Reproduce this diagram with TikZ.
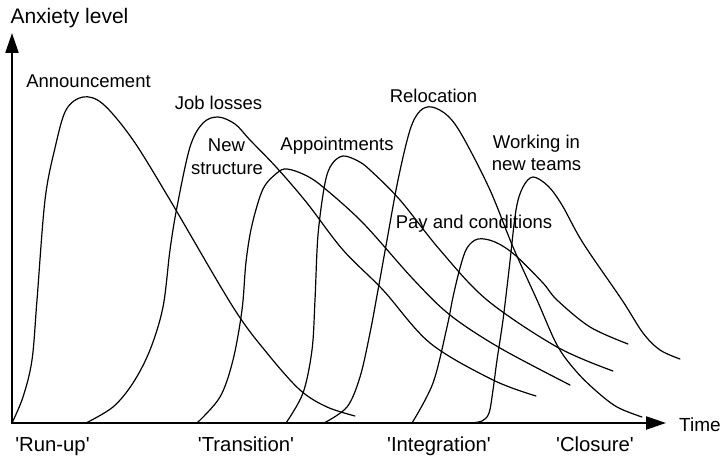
\documentclass[tikz,border=0pt]{standalone}
\usepackage{fontspec}
\setmainfont{Liberation Sans}
\usetikzlibrary{arrows.meta}
\newcommand{\q}{\textquotesingle}
\begin{document}
\begin{tikzpicture}[x=1pt,y=-1pt,
  lbl/.style={inner sep=0pt, anchor=base, font=\fontsize{18.5}{22}\selectfont},
  phase/.style={lbl, font=\fontsize{20.3}{24}\selectfont},
  axisline/.style={line width=2.3pt},
  curve/.style={line width=1.2pt, line join=round, line cap=round}]
\useasboundingbox (0,0) rectangle (725,457);
% axes
\coordinate (O) at (12,423);
\coordinate (Ytip) at (12,33);
\coordinate (Xtip) at (666,423);
\draw[axisline, {Triangle[length=20pt,width=13pt]}-{Triangle[length=20pt,width=13pt]}] (Ytip) -- (O) -- (Xtip);
% curves
\draw[curve] plot[smooth, tension=0.55] coordinates {(12,423) (23,397) (32,360) (37,300) (45,200) (55,148) (66,110) (83,97) (103,104) (133,140) (170,200) (233,307) (267,353) (300,390) (327,407) (355,416)};
\draw[curve] plot[smooth, tension=0.55] coordinates {(86,423) (113,407) (133,383) (150,350) (163,307) (170,250) (177,207) (190,147) (203,123) (218,117) (235,124) (250,140) (277,168) (307,203) (343,250) (383,290) (430,343) (493,380) (536,396)};
\draw[curve] plot[smooth, tension=0.55] coordinates {(197,423) (220,397) (233,360) (242,310) (246,262) (252,225) (263,189) (277,173) (287,169) (305,175) (323,187) (363,223) (413,279) (450,315) (500,348) (570,385)};
\draw[curve] plot[smooth, tension=0.55] coordinates {(286,423) (303,393) (312,350) (315,300) (318,235) (325,183) (332,164) (343,156) (358,161) (370,170) (400,200) (440,250) (487,300) (557,347) (613,371)};
\draw[curve] plot[smooth, tension=0.55] coordinates {(324,423) (347,407) (360,377) (370,333) (378,290) (387,240) (398,180) (410,130) (420,111) (432,107) (448,116) (463,137) (490,190) (513,247) (537,300) (557,345) (575,370) (595,390) (617,407) (642,417)};
\draw[curve] plot[smooth, tension=0.55] coordinates {(412,423) (433,383) (447,327) (453,297) (460,268) (467,248) (478,239) (495,242) (515,255) (543,283) (557,300) (590,327) (628,344)};
\draw[curve] plot[smooth, tension=0.55] coordinates {(470,423) (482,421) (489,413) (493,390) (497,360) (503,320) (509,270) (516,210) (523,187) (533,177) (548,186) (562,205) (583,243) (622,300) (643,333) (660,350) (680,359)};
% labels
\node[lbl, font=\fontsize{21}{24}\selectfont] (ylab) at (69.5,24) {Anxiety level};
\node[lbl, font=\fontsize{19}{22}\selectfont] (xlab) at (679,431) [anchor=base west] {Time};
\node[lbl] (ann) at (88.5,88) {Announcement};
\node[lbl] (job) at (218.5,110) {Job losses};
\node[lbl] (ns1) at (226.5,152) {New};
\node[lbl] (ns2) at (227,175) {structure};
\node[lbl] (app) at (337,151) {Appointments};
\node[lbl] (rel) at (433.5,103) {Relocation};
\node[lbl] (wk1) at (536.5,149) {Working in};
\node[lbl] (wk2) at (536.5,171) {new teams};
\node[lbl] (pay) at (474,229) {Pay and conditions};
\node[phase] (p1) at (52.5,451) {\q Run-up\q};
\node[phase] (p2) at (246,451) {\q Transition\q};
\node[phase] (p3) at (439,451) {\q Integration\q};
\node[phase] (p4) at (595,451) {\q Closure\q};
\end{tikzpicture}
\end{document}
